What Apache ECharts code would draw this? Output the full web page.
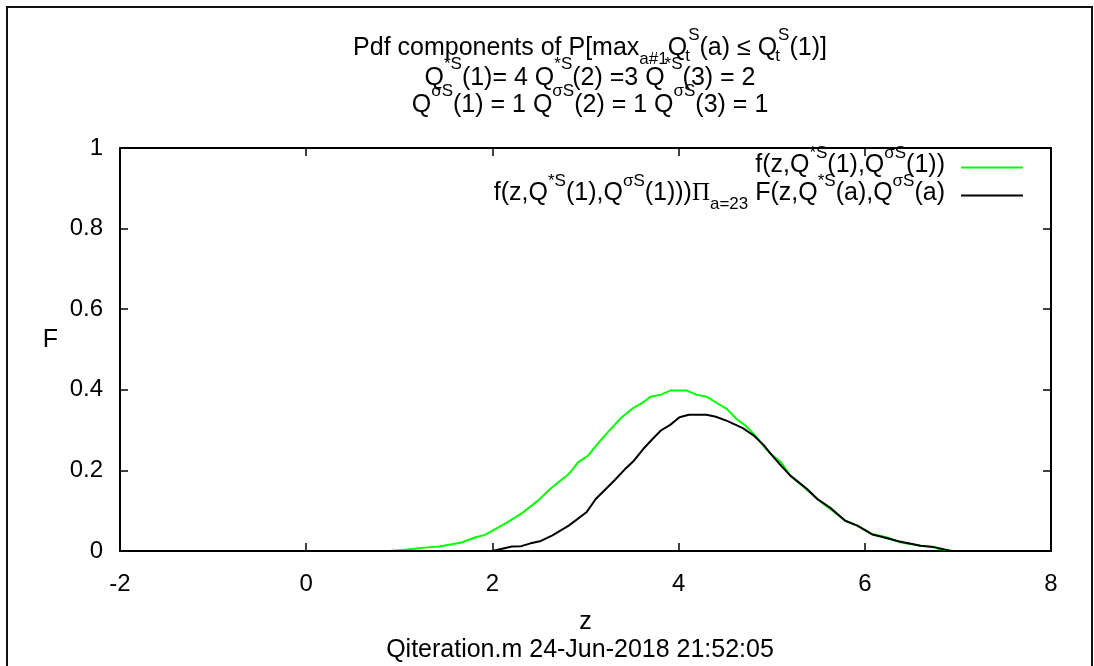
<!DOCTYPE html>
<html>
<head>
<meta charset="utf-8">
<style>
  html, body { margin: 0; padding: 0; background: #fff; }
  #chart { width: 1094px; height: 666px; }
</style>
<script src="https://cdn.jsdelivr.net/npm/echarts@6/dist/echarts.min.js"></script>
</head>
<body>
<div id="chart"></div>
<script>
// Density of the first action's value, alone and multiplied by the CDFs of the others
const zSingle = [-2, 0.9, 1.06, 1.3, 1.43, 1.67, 1.82, 1.92, 2.16, 2.33, 2.49, 2.62, 2.82, 2.92, 3.03, 3.13, 3.26, 3.39, 3.52, 3.62, 3.70, 3.81, 3.91, 4.09, 4.19, 4.30, 4.42, 4.52, 4.62, 4.71, 4.81, 4.91, 4.99, 5.10, 5.20, 5.36, 5.49, 5.63, 5.79, 5.92, 6.08, 6.23, 6.39, 6.60, 6.72, 6.80, 6.96, 8];
const fSingle = [0, 0, 0.003, 0.009, 0.011, 0.021, 0.034, 0.040, 0.071, 0.096, 0.125, 0.154, 0.191, 0.220, 0.237, 0.266, 0.300, 0.332, 0.356, 0.369, 0.383, 0.388, 0.398, 0.398, 0.388, 0.383, 0.366, 0.352, 0.328, 0.313, 0.290, 0.261, 0.241, 0.220, 0.187, 0.156, 0.129, 0.104, 0.075, 0.063, 0.042, 0.034, 0.021, 0.013, 0.011, 0.005, 0, 0];

const zProduct = [-2, 2.0, 2.21, 2.31, 2.41, 2.51, 2.64, 2.82, 3.01, 3.11, 3.31, 3.42, 3.52, 3.62, 3.72, 3.81, 3.91, 4.01, 4.11, 4.30, 4.40, 4.52, 4.69, 4.81, 4.91, 4.99, 5.10, 5.20, 5.38, 5.49, 5.63, 5.79, 5.92, 6.08, 6.20, 6.36, 6.60, 6.76, 6.92, 8];
const fProduct = [0, 0, 0.011, 0.012, 0.019, 0.024, 0.038, 0.063, 0.096, 0.129, 0.175, 0.202, 0.224, 0.253, 0.278, 0.299, 0.313, 0.332, 0.338, 0.338, 0.333, 0.323, 0.305, 0.286, 0.264, 0.241, 0.212, 0.187, 0.154, 0.129, 0.107, 0.075, 0.063, 0.041, 0.034, 0.024, 0.013, 0.009, 0, 0];

const xTicks = { min: -2, max: 8, step: 2 };
const yTicks = { min: 0, max: 1, step: 0.2 };

const seriesNames = ['single', 'product'];

const titleLines = [
  '{n|Pdf components of P[max}{b|a#1}{n|Q}{t|t}{p|S}{n|(a) ≤ Q}{t|t}{p|S}{n|(1)]}',
  '{n|Q}{p|*S}{n|(1)= 4 Q}{p|*S}{n|(2) =3 Q}{p|*S}{n|(3) = 2}',
  '{n|Q}{p|σS}{n|(1) = 1 Q}{p|σS}{n|(2) = 1 Q}{p|σS}{n|(3) = 1}'
];
const legendLabels = [
  '{n|f(z,Q}{p|*S}{n|(1),Q}{p|σS}{n|(1))}{s| }',
  '{n|f(z,Q}{p|*S}{n|(1),Q}{p|σS}{n|(1)))}{pi|Π}{b|a=23}{n| F(z,Q}{p|*S}{n|(a),Q}{p|σS}{n|(a)}{s| }'
];
const axisNames = { x: 'z', y: 'F' };
const footer = 'Qiteration.m 24-Jun-2018 21:52:05';

const FONT = '"Liberation Sans", Arial, sans-serif';
const FS = 25;   // titles, legend, axis names
const SS = 17;   // super/subscripts
const TS = 24;   // tick labels

function pairs(xs, ys) {
  return xs.map((x, i) => [x, ys[i]]);
}

const ink = { fontFamily: FONT, color: '#000' };

// first title line: body centred, superscript at top, subscript near bottom
const richTall = {
  n: Object.assign({ fontSize: FS, lineHeight: FS, verticalAlign: 'middle' }, ink),
  p: Object.assign({ fontSize: SS, verticalAlign: 'top', padding: [0, 0, 26, 0] }, ink),
  b: Object.assign({ fontSize: SS, verticalAlign: 'bottom', padding: [0, 0, 2, 0] }, ink),
  t: Object.assign({ fontSize: SS, verticalAlign: 'bottom', padding: [0, 0, 5, 0], width: 1 }, ink)
};
// superscript-only title lines: body sits at the bottom
const richSup = {
  n: Object.assign({ fontSize: FS, lineHeight: FS, verticalAlign: 'bottom' }, ink),
  p: Object.assign({ fontSize: SS, verticalAlign: 'top', padding: [0, 0, 18, 0] }, ink)
};
// legend entries: body just above the sample line
const richLegend = {
  n: Object.assign({ fontSize: FS, lineHeight: FS, verticalAlign: 'top', padding: [8, 0, 0, 0] }, ink),
  p: Object.assign({ fontSize: SS, verticalAlign: 'top', padding: [0, 0, 28, 0] }, ink),
  b: Object.assign({ fontSize: SS, verticalAlign: 'bottom', padding: [0, 0, 5, 0] }, ink),
  pi: { fontSize: FS, lineHeight: FS, verticalAlign: 'top', padding: [8, 0, 0, 0], fontFamily: '"Liberation Serif", serif', color: '#000' },
  s: { fontSize: FS, lineHeight: FS, width: 11, fontFamily: FONT }
};

const baseText = { fontFamily: FONT, fontWeight: 'normal', color: '#000', fontSize: FS };
const tickText = { fontFamily: FONT, fontWeight: 'normal', color: '#000', fontSize: TS };

const chart = echarts.init(document.getElementById('chart'), null, { renderer: 'canvas' });

const option = {
  animation: false,
  backgroundColor: '#fff',
  title: [
    { text: titleLines[0], left: 590, textAlign: 'center', top: 26.5, padding: 0, textStyle: Object.assign({}, baseText, { rich: richTall }) },
    { text: titleLines[1], left: 590, textAlign: 'center', top: 56, padding: 0, textStyle: Object.assign({}, baseText, { rich: richSup }) },
    { text: titleLines[2], left: 590, textAlign: 'center', top: 83, padding: 0, textStyle: Object.assign({}, baseText, { rich: richSup }) }
  ],
  legend: [
    {
      data: [seriesNames[0]], right: 71, top: 145, orient: 'vertical', align: 'right', padding: 0,
      icon: 'rect', itemWidth: 62, itemHeight: 2, selectedMode: false,
      formatter: () => legendLabels[0],
      textStyle: Object.assign({}, baseText, { rich: richLegend })
    },
    {
      data: [seriesNames[1]], right: 71, top: 173, orient: 'vertical', align: 'right', padding: 0,
      icon: 'rect', itemWidth: 62, itemHeight: 2, selectedMode: false,
      formatter: () => legendLabels[1],
      textStyle: Object.assign({}, baseText, { rich: richLegend })
    }
  ],
  grid: { left: 120, right: 43, top: 148, bottom: 115, containLabel: false },
  xAxis: [
    {
      type: 'value', position: 'bottom', min: xTicks.min, max: xTicks.max, interval: xTicks.step,
      name: axisNames.x, nameLocation: 'middle', nameGap: 59,
      nameTextStyle: Object.assign({}, baseText),
      axisLine: { onZero: false, lineStyle: { color: '#000', width: 2 } },
      axisTick: { inside: true, length: 8, lineStyle: { color: '#000', width: 1.5 } },
      axisLabel: Object.assign({}, tickText, { margin: 21 }),
      splitLine: { show: false }
    },
    {
      type: 'value', position: 'top', min: xTicks.min, max: xTicks.max, interval: xTicks.step,
      axisLine: { onZero: false, lineStyle: { color: '#000', width: 2 } },
      axisTick: { inside: true, length: 8, lineStyle: { color: '#000', width: 1.5 } },
      axisLabel: { show: false },
      splitLine: { show: false }
    }
  ],
  yAxis: [
    {
      type: 'value', position: 'left', min: yTicks.min, max: yTicks.max, interval: yTicks.step,
      name: axisNames.y, nameLocation: 'middle', nameGap: 62, nameRotate: 0,
      nameTextStyle: Object.assign({}, baseText, { verticalAlign: 'bottom', lineHeight: 18 }),
      axisLine: { onZero: false, lineStyle: { color: '#000', width: 2 } },
      axisTick: { inside: true, length: 8, lineStyle: { color: '#000', width: 1.5 } },
      axisLabel: Object.assign({}, tickText, { margin: 17, padding: [6, 0, 0, 0] }),
      splitLine: { show: false }
    },
    {
      type: 'value', position: 'right', min: yTicks.min, max: yTicks.max, interval: yTicks.step,
      axisLine: { onZero: false, lineStyle: { color: '#000', width: 2 } },
      axisTick: { inside: true, length: 8, lineStyle: { color: '#000', width: 1.5 } },
      axisLabel: { show: false },
      splitLine: { show: false }
    }
  ],
  graphic: [
    {
      type: 'rect', silent: true,
      shape: { x: 7, y: 7, width: 1085, height: 700 },
      style: { fill: 'none', stroke: '#111', lineWidth: 2 }
    },
    {
      type: 'text', silent: true, x: 580, y: 650,
      style: { text: footer, font: FS + 'px ' + FONT, fill: '#000', align: 'center', verticalAlign: 'middle' }
    }
  ],
  series: [
    {
      name: seriesNames[0], type: 'line', xAxisIndex: 0, yAxisIndex: 0,
      data: pairs(zSingle, fSingle),
      symbol: 'none', smooth: false,
      lineStyle: { color: '#00ff00', width: 2 },
      itemStyle: { color: '#00ff00' }
    },
    {
      name: seriesNames[1], type: 'line', xAxisIndex: 0, yAxisIndex: 0,
      data: pairs(zProduct, fProduct),
      symbol: 'none', smooth: false,
      lineStyle: { color: '#000', width: 2 },
      itemStyle: { color: '#000' }
    }
  ]
};

chart.setOption(option);
</script>
</body>
</html>
